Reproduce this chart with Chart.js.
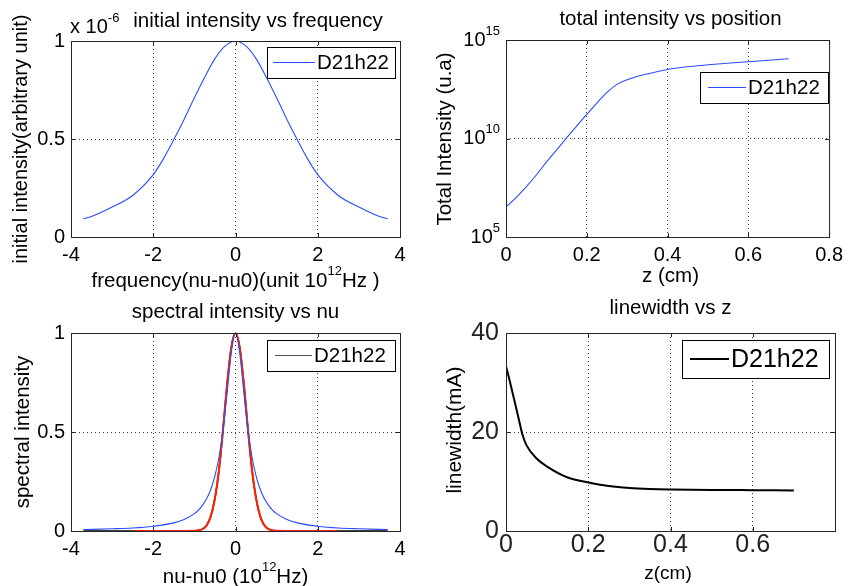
<!DOCTYPE html>
<html>
<head>
<meta charset="utf-8">
<script src="https://cdn.jsdelivr.net/npm/chart.js@4.4.1/dist/chart.umd.min.js"></script>
<style>
  html, body { margin: 0; padding: 0; background: #fff; }
  #fig { position: relative; width: 849px; height: 586px; overflow: hidden; }
  #fig canvas { position: absolute; left: 0; top: 0; }
</style>
</head>
<body>
<div id="fig">
  <canvas id="c1" width="849" height="586"></canvas>
  <canvas id="c2" width="849" height="586"></canvas>
  <canvas id="c3" width="849" height="586"></canvas>
  <canvas id="c4" width="849" height="586"></canvas>
</div>
<script>
// ---- data ----
const legendName = "D21h22";

// top left: initial intensity (x 1e-6) vs frequency
const freqX = [-3.7, -3.5, -3, -2.5, -2, -1.75, -1.5, -1.25, -1, -0.75, -0.5, -0.25, 0,
               0.25, 0.5, 0.75, 1, 1.25, 1.5, 1.75, 2, 2.5, 3, 3.5, 3.7];
const initIntensity = [0.093, 0.105, 0.153, 0.212, 0.318, 0.40, 0.497, 0.60, 0.71, 0.815, 0.91, 0.975, 1,
                       0.975, 0.91, 0.815, 0.71, 0.60, 0.497, 0.40, 0.318, 0.212, 0.153, 0.105, 0.093];

// top right: total intensity vs position (log axis)
const posZ = [0, 0.025, 0.05, 0.075, 0.1, 0.125, 0.15, 0.175, 0.2, 0.225, 0.25, 0.275, 0.3,
              0.35, 0.4, 0.45, 0.5, 0.6, 0.7];
const totalIntensity = [3.4e6, 1.0e7, 3.5e7, 1.4e8, 6.3e8, 2.6e9, 1.07e10, 4.3e10, 1.66e11, 6.3e11,
                        2.2e12, 5.6e12, 9.5e12, 1.9e13, 3.2e13, 4.4e13, 5.5e13, 7.9e13, 1.12e14];
const logTicks = [1e5, 1e10, 1e15];

// bottom left: spectral intensity vs nu
const specX = [-3.7, -3, -2.5, -2, -1.5, -1.25, -1, -0.9, -0.8, -0.7, -0.6, -0.5, -0.4, -0.3, -0.2, -0.1, 0,
               0.1, 0.2, 0.3, 0.4, 0.5, 0.6, 0.7, 0.8, 0.9, 1, 1.25, 1.5, 2, 2.5, 3, 3.7];
const specBlue = [0.007, 0.011, 0.015, 0.024, 0.041, 0.058, 0.088, 0.106, 0.131, 0.164, 0.211, 0.278, 0.375, 0.516, 0.706, 0.906, 1,
                  0.906, 0.706, 0.516, 0.375, 0.278, 0.211, 0.164, 0.131, 0.106, 0.088, 0.058, 0.041, 0.024, 0.015, 0.011, 0.007];
const specBlack = [0, 0, 0, 0, 0, 0, 0.001, 0.003, 0.01, 0.029, 0.075, 0.165, 0.31, 0.52, 0.75, 0.93, 1,
                   0.93, 0.75, 0.52, 0.31, 0.165, 0.075, 0.029, 0.01, 0.003, 0.001, 0, 0, 0, 0, 0, 0];
const redX = [-2.45, -2, -1.5, -1, -0.9, -0.8, -0.7, -0.6, -0.5, -0.4, -0.3, -0.2, -0.1, 0,
              0.1, 0.2, 0.3, 0.4, 0.5, 0.6, 0.7, 0.8, 0.9, 1, 1.5, 2, 2.45];
const specRed = [0, 0, 0, 0.001, 0.003, 0.01, 0.029, 0.075, 0.165, 0.31, 0.52, 0.75, 0.93, 1,
                 0.93, 0.75, 0.52, 0.31, 0.165, 0.075, 0.029, 0.01, 0.003, 0.001, 0, 0, 0];

// bottom right: linewidth vs z
const lwZ = [0, 0.01, 0.02, 0.03, 0.04, 0.05, 0.075, 0.1, 0.15, 0.2, 0.25, 0.3, 0.35, 0.4, 0.5, 0.6, 0.7];
const linewidth = [33.3, 30.0, 26.5, 23.0, 19.5, 17.3, 14.6, 13.0, 10.8, 9.8, 9.1, 8.7, 8.5, 8.4, 8.3, 8.25, 8.2];

// ---- helpers ----
const FONT = '"Liberation Sans", Arial, Helvetica, sans-serif';
const FIG_W = 849, FIG_H = 586;

function pts(xs, ys, k) {
  return xs.map((x, i) => ({ x: x, y: ys[i] * (k || 1) }));
}
function fmt(v) {
  return String(Math.round(v * 100) / 100);
}

// text with "^" superscript parts, like MATLAB tex labels
function richText(ctx, parts, x, y, o) {
  const size = o.size || 20.5;
  const supSize = Math.round(size * 0.65);
  let w = 0;
  const segs = parts.map(p => {
    const sup = p[0] === "^";
    const t = sup ? p.slice(1) : p;
    ctx.font = (sup ? supSize : size) + "px " + FONT;
    const sw = ctx.measureText(t).width;
    w += sw;
    return { t, sup, sw };
  });
  ctx.save();
  ctx.translate(x, y);
  if (o.rot) ctx.rotate(o.rot);
  let cx = o.align === "left" ? 0 : o.align === "right" ? -w : -w / 2;
  ctx.textAlign = "left";
  ctx.textBaseline = "middle";
  ctx.fillStyle = o.color || "#000";
  segs.forEach(s => {
    ctx.font = (s.sup ? supSize : size) + "px " + FONT;
    ctx.fillText(s.t, cx, s.sup ? -size * 0.45 : 0);
    cx += s.sw;
  });
  ctx.restore();
}

// axes box, inward ticks, texts and legend the MATLAB way
const matlabAxes = {
  id: "matlab",
  afterDraw(chart, args, o) {
    const ctx = chart.ctx;
    const a = chart.chartArea;
    const xs = chart.scales.x, ys = chart.scales.y;
    ctx.save();
    ctx.strokeStyle = "#262626";
    ctx.lineWidth = 1;
    ctx.strokeRect(a.left + 0.5, a.top + 0.5, a.right - a.left, a.bottom - a.top);
    ctx.beginPath();
    xs.ticks.forEach(t => {
      const px = Math.round(xs.getPixelForValue(t.value)) + 0.5;
      ctx.moveTo(px, a.bottom); ctx.lineTo(px, a.bottom - 4);
      ctx.moveTo(px, a.top); ctx.lineTo(px, a.top + 4);
    });
    ys.ticks.forEach(t => {
      const py = Math.round(ys.getPixelForValue(t.value)) + 0.5;
      ctx.moveTo(a.left, py); ctx.lineTo(a.left + 4, py);
      ctx.moveTo(a.right, py); ctx.lineTo(a.right - 4, py);
    });
    ctx.stroke();

    if (o.logLabels) {
      ys.ticks.forEach(t => {
        const e = Math.round(Math.log10(t.value));
        richText(ctx, ["10", "^" + e], a.left - 6, ys.getPixelForValue(t.value), { align: "right", size: 20 });
      });
    }

    (o.texts || []).forEach(t => richText(ctx, t.parts, t.x, t.y, t));

    const L = o.legend;
    if (L) {
      ctx.fillStyle = "#fff";
      ctx.fillRect(L.x, L.y, L.w, L.h);
      ctx.strokeStyle = "#000";
      ctx.lineWidth = 1;
      ctx.strokeRect(L.x + 0.5, L.y + 0.5, L.w, L.h);
      const cy = L.y + L.h / 2;
      ctx.beginPath();
      ctx.strokeStyle = L.color;
      ctx.lineWidth = L.lw;
      ctx.moveTo(L.x + L.l0, cy);
      ctx.lineTo(L.x + L.l1, cy);
      ctx.stroke();
      richText(ctx, [legendName], L.x + L.l1 + 2, cy + 1, { align: "left", size: L.size });
    }
    ctx.restore();
  }
};
Chart.register(matlabAxes);

const gridOpt = { color: "#3c3c3c", lineWidth: 1, drawTicks: false };
const borderOpt = { display: false, dash: [1, 3] };

function makeOptions(area, xScale, yScale, matlab) {
  xScale.afterFit = s => { s.height = FIG_H - area.bottom; };
  yScale.afterFit = s => { s.width = area.left; };
  xScale.grid = gridOpt; yScale.grid = gridOpt;
  xScale.border = borderOpt; yScale.border = borderOpt;
  return {
    responsive: false,
    animation: false,
    events: [],
    layout: { padding: { left: 0, top: area.top, right: FIG_W - area.right, bottom: 0 } },
    plugins: { legend: { display: false }, tooltip: { enabled: false }, matlab: matlab },
    elements: { point: { radius: 0 }, line: { cubicInterpolationMode: "monotone" } },
    scales: { x: xScale, y: yScale }
  };
}

function tickFont(size) {
  return { family: FONT, size: size || 20 };
}

// ---- top left ----
new Chart(document.getElementById("c1"), {
  type: "line",
  data: { datasets: [{ data: pts(freqX, initIntensity, 1e-6), borderColor: "#2a4dff", borderWidth: 1.1 }] },
  options: makeOptions(
    { left: 71, right: 400, top: 41, bottom: 237 },
    { type: "linear", min: -4, max: 4, ticks: { stepSize: 2, padding: 6, color: "#000", font: tickFont(), callback: v => fmt(v) } },
    { type: "linear", min: 0, max: 1e-6, ticks: { stepSize: 0.5e-6, padding: 6, color: "#000", font: tickFont(), callback: v => fmt(v * 1e6) } },
    {
      texts: [
        { parts: ["initial intensity vs frequency"], x: 258, y: 21 },
        { parts: ["x 10", "^-6"], x: 70, y: 27, align: "left", size: 20 },
        { parts: ["frequency(nu-nu0)(unit 10", "^12", "Hz )"], x: 235.5, y: 281 },
        { parts: ["initial intensity(arbitrary unit)"], x: 21, y: 139, rot: -Math.PI / 2, size: 20 }
      ],
      legend: { x: 267, y: 47, w: 128, h: 31, l0: 6, l1: 48, color: "#2a4dff", lw: 1, size: 20.5 }
    })
});

// ---- top right ----
new Chart(document.getElementById("c2"), {
  type: "line",
  data: { datasets: [{ data: pts(posZ, totalIntensity), borderColor: "#2a4dff", borderWidth: 1.1 }] },
  options: makeOptions(
    { left: 506, right: 835, top: 40, bottom: 237 },
    { type: "linear", min: 0, max: 0.8, ticks: { stepSize: 0.2, padding: 6, color: "#000", font: tickFont(), callback: v => fmt(v) } },
    { type: "logarithmic", min: 1e5, max: 1e15, ticks: { display: false },
      afterBuildTicks: s => { s.ticks = logTicks.map(v => ({ value: v })); } },
    {
      logLabels: true,
      texts: [
        { parts: ["total intensity vs position"], x: 670.5, y: 19 },
        { parts: ["z (cm)"], x: 670.5, y: 276 },
        { parts: ["Total Intensity (u.a)"], x: 445, y: 139, rot: -Math.PI / 2 }
      ],
      legend: { x: 700, y: 72, w: 128, h: 31, l0: 8, l1: 46, color: "#2a4dff", lw: 1, size: 20.5 }
    })
});

// ---- bottom left ----
new Chart(document.getElementById("c3"), {
  type: "line",
  data: {
    datasets: [
      { data: pts(specX, specBlue), borderColor: "#2a4dff", borderWidth: 1.1 },
      { data: pts(redX, specRed), borderColor: "#ff2200", borderWidth: 2 },
      { data: pts(specX, specBlack), borderColor: "#000", borderWidth: 1.6, clip: 3 }
    ]
  },
  options: makeOptions(
    { left: 71, right: 400, top: 333, bottom: 531 },
    { type: "linear", min: -4, max: 4, ticks: { stepSize: 2, padding: 6, color: "#000", font: tickFont(), callback: v => fmt(v) } },
    { type: "linear", min: 0, max: 1, ticks: { stepSize: 0.5, padding: 6, color: "#000", font: tickFont(), callback: v => fmt(v) } },
    {
      texts: [
        { parts: ["spectral intensity vs nu"], x: 235.5, y: 312 },
        { parts: ["nu-nu0 (10", "^12", "Hz)"], x: 235.5, y: 577 },
        { parts: ["spectral intensity"], x: 23, y: 432, rot: -Math.PI / 2 }
      ],
      legend: { x: 267, y: 340, w: 128, h: 31, l0: 8, l1: 45, color: "#555", lw: 1, size: 20.5 }
    })
});

// ---- bottom right ----
new Chart(document.getElementById("c4"), {
  type: "line",
  data: { datasets: [{ data: pts(lwZ, linewidth), borderColor: "#000", borderWidth: 2 }] },
  options: makeOptions(
    { left: 506, right: 835, top: 333, bottom: 531 },
    { type: "linear", min: 0, max: 0.8, ticks: { stepSize: 0.2, padding: -1, color: "#222", font: tickFont(25),
      callback: v => (v > 0.7 ? "" : fmt(v)) } },
    { type: "linear", min: 0, max: 40, ticks: { stepSize: 20, padding: 7, color: "#222", font: tickFont(25), callback: v => fmt(v) } },
    {
      texts: [
        { parts: ["linewidth vs z"], x: 670.5, y: 308 },
        { parts: ["z(cm)"], x: 668, y: 574, size: 19 },
        { parts: ["linewidth(mA)"], x: 455, y: 430, rot: -Math.PI / 2, size: 21 }
      ],
      legend: { x: 682, y: 340, w: 147, h: 38, l0: 8, l1: 47, color: "#000", lw: 2, size: 25 }
    })
});
</script>
</body>
</html>
